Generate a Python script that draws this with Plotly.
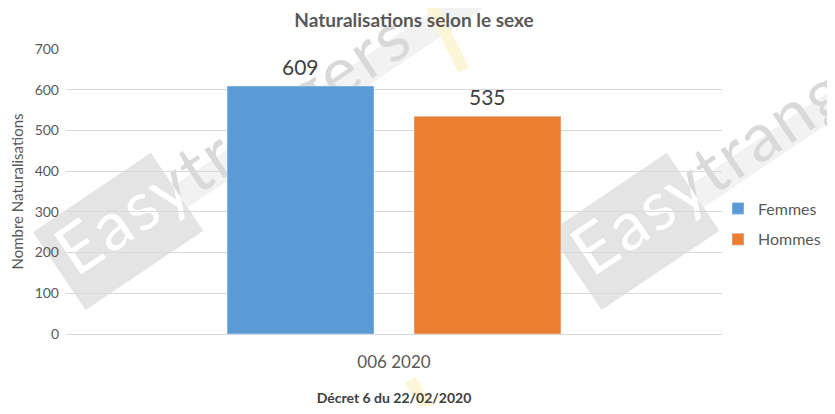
import base64
import plotly.graph_objects as go

# data
categories = ["006 2020"]
series_names = ["Femmes", "Hommes"]
femmes = [609]
hommes = [535]
y_ticks = [0, 100, 200, 300, 400, 500, 600, 700]

# the page puts the plot 8px in from the top-left corner (and 8px below it),
# so the figure is smaller and every position below is (screen position - 8)
OFF = 8
W, H = 835 - OFF, 414 - 2 * OFF
L, T = 66 - OFF, 49 - OFF
pw, ph = 656, 285
R, B = W - L - pw, H - T - ph

FONT = "Lato, 'Open Sans', sans-serif"
GREY = "#595959"
BARGAP = 0.43


def watermark(ox, oy):
    # faint "Easytrangers" stamp, as on the original picture
    return f"""
<g transform="translate({ox},{oy}) rotate(-34)">
  <rect x="-10" y="-62" width="142" height="94" fill="#e4e4e4"/>
  <rect x="132" y="-22" width="360" height="26" fill="#f2f2f2"/>
  <text x="0" y="0" font-size="68" letter-spacing="2.5" font-family="Lato, sans-serif"
        fill="#d9d9d9">Easytrangers</text>
  <text x="0" y="0" font-size="68" letter-spacing="2.5" font-family="Lato, sans-serif"
        fill="#ffffff" clip-path="url(#boxclip)">Easytrangers</text>
</g>"""


svg = f"""<svg xmlns="http://www.w3.org/2000/svg" width="{W}" height="{H}" viewBox="{OFF} {OFF} {W} {H}">
<defs><clipPath id="boxclip"><rect x="-10" y="-62" width="142" height="94"/></clipPath></defs>
{watermark(76, 278)}
{watermark(592, 278)}
<line x1="426" y1="-4" x2="464" y2="70" stroke="#fdf5d8" stroke-width="12"/>
<line x1="410" y1="380" x2="436" y2="418" stroke="#fdf5d8" stroke-width="12"/>
</svg>"""
wm_src = "data:image/svg+xml;base64," + base64.b64encode(svg.encode()).decode()

fig = go.Figure()
fig.add_trace(go.Bar(name=series_names[0], x=categories, y=femmes,
                     marker_color="#5B9BD5", legendgroup="f"))
fig.add_trace(go.Bar(name=series_names[1], x=categories, y=hommes,
                     marker_color="#ED7D31", legendgroup="h"))

# value labels sit a bit higher above the bars than plotly's own outside text
slot = (1 - BARGAP) / 2
annotations = []
for k, vals in enumerate([femmes, hommes]):
    for i, v in enumerate(vals):
        annotations.append(dict(
            x=i + (k - 0.5) * slot, y=v, xref="x", yref="y", text=str(v),
            showarrow=False, yanchor="bottom", yshift=5,
            font=dict(size=21, color="#404040", family=FONT),
        ))

fig.update_layout(
    width=W, height=H,
    margin=dict(l=L, r=R, t=T, b=B, autoexpand=False),
    paper_bgcolor="white", plot_bgcolor="rgba(0,0,0,0)",
    font=dict(family=FONT, color=GREY),
    barmode="group", bargap=BARGAP, bargroupgap=0.214,
    title=dict(text="<b>Naturalisations selon le sexe</b>", xref="container",
               x=(414 - OFF) / W, xanchor="center",
               yref="container", y=1 - (20.5 - OFF) / H, yanchor="middle",
               font=dict(size=19, color=GREY)),
    legend=dict(xref="container", x=(718 - OFF) / W, xanchor="left",
                yref="container", y=1 - (224 - OFF) / H, yanchor="middle",
                font=dict(size=16, color=GREY), bgcolor="rgba(0,0,0,0)",
                tracegroupgap=7),
    showlegend=True,
    annotations=annotations,
    images=[dict(source=wm_src, xref="paper", yref="paper",
                 x=-L / pw, y=1 + T / ph, sizex=W / pw, sizey=H / ph,
                 xanchor="left", yanchor="top", sizing="stretch", layer="below")],
)

fig.update_xaxes(
    showgrid=False, showline=False, ticks="", ticklabelstandoff=16,
    tickfont=dict(size=17, color=GREY),
    title=dict(text="<b>Décret 6 du 22/02/2020</b>", font=dict(size=14, color="#404040"),
               standoff=22),
)
fig.update_yaxes(
    range=[0, 700], tickvals=y_ticks, showgrid=True, gridcolor="#d9d9d9", gridwidth=1,
    zeroline=True, zerolinecolor="#d9d9d9", zerolinewidth=1, showline=False,
    tickfont=dict(size=14, color=GREY), ticks="", ticklabelstandoff=6,
    title=dict(text="Nombre Naturalisations", font=dict(size=15, color=GREY), standoff=13),
)

fig.write_html("out.html")
